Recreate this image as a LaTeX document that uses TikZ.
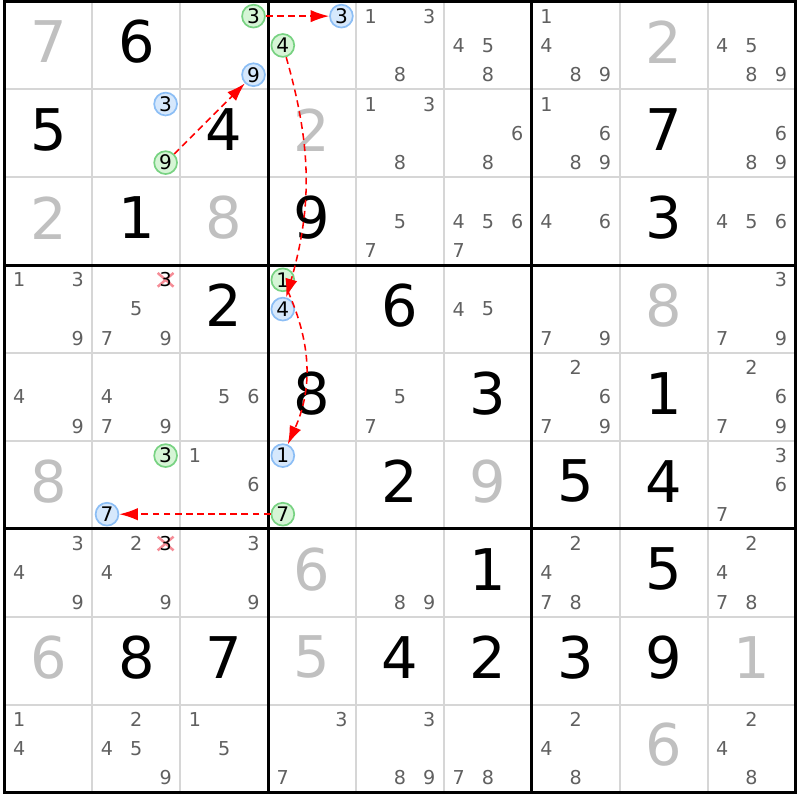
\documentclass[tikz,border=0pt]{standalone}
\usepackage{fontspec}
\setmainfont{DejaVu Sans}
\usetikzlibrary{arrows.meta}
\definecolor{givengray}{RGB}{192,192,192}
\definecolor{candgray}{RGB}{96,96,96}
\definecolor{gridgray}{RGB}{214,214,214}
\definecolor{onfill}{RGB}{214,245,214}
\definecolor{ondraw}{RGB}{120,210,130}
\definecolor{offfill}{RGB}{214,232,252}
\definecolor{offdraw}{RGB}{140,190,245}
\definecolor{crosspink}{RGB}{245,140,150}

\begin{document}
\begin{tikzpicture}[
        big/.style={font=\fontsize{18.6}{20}\selectfont, inner sep=0pt},
        cand/.style={font=\fontsize{6.2}{7}\selectfont, text=candgray, inner sep=0pt},
        oncand/.style={circle, draw=ondraw, fill=onfill, line width=0.55pt, minimum size=0.26cm, inner sep=0pt, font=\fontsize{6.5}{7}\selectfont},
        offcand/.style={oncand, draw=offdraw, fill=offfill},
        chain/.style={-{Latex[length=2.1mm,width=1.4mm]}, red, line width=0.5pt, dash pattern=on 2.2pt off 1.4pt}
        ]
        \useasboundingbox (-0.051,0.017) rectangle (9.051,-9.084);
        \foreach \i in {1,...,8}{
            \draw[gridgray, line width=0.65pt] (\i,0) -- (\i,-9);
            \draw[gridgray, line width=0.65pt] (0,-\i) -- (9,-\i);
        }
        \foreach \i in {3,6}{
            \draw[line width=1pt] (\i,0) -- (\i,-9);
            \draw[line width=1pt] (0,-\i) -- (9,-\i);
        }
        \draw[line width=1pt] (0,0) rectangle (9,-9);
        \foreach \r/\c/\d/\col in {1/1/7/givengray, 1/2/6/black, 1/8/2/givengray,
                2/1/5/black, 2/3/4/black, 2/4/2/givengray, 2/8/7/black,
                3/1/2/givengray, 3/2/1/black, 3/3/8/givengray, 3/4/9/black, 3/8/3/black,
                4/3/2/black, 4/5/6/black, 4/8/8/givengray,
                5/4/8/black, 5/6/3/black, 5/8/1/black,
                6/1/8/givengray, 6/5/2/black, 6/6/9/givengray, 6/7/5/black, 6/8/4/black,
                7/4/6/givengray, 7/6/1/black, 7/8/5/black,
                8/1/6/givengray, 8/2/8/black, 8/3/7/black, 8/4/5/givengray, 8/5/4/black,
                8/6/2/black, 8/7/3/black, 8/8/9/black, 8/9/1/givengray,
                9/8/6/givengray}
            \node[big, text=\col] (v\r\c) at (\c-0.5, 0.54-\r) {\d};
        \foreach \r/\c/\ds in {1/5/{1,3,8}, 1/6/{4,5,8}, 1/7/{1,4,8,9}, 1/9/{4,5,8,9},
                2/5/{1,3,8}, 2/6/{6,8}, 2/7/{1,6,8,9}, 2/9/{6,8,9},
                3/5/{5,7}, 3/6/{4,5,6,7}, 3/7/{4,6}, 3/9/{4,5,6},
                4/1/{1,3,9}, 4/2/{5,7,9}, 4/6/{4,5}, 4/7/{7,9}, 4/9/{3,7,9},
                5/1/{4,9}, 5/2/{4,7,9}, 5/3/{5,6}, 5/5/{5,7}, 5/7/{2,6,7,9}, 5/9/{2,6,7,9},
                6/3/{1,6}, 6/9/{3,6,7},
                7/1/{3,4,9}, 7/2/{2,4,9}, 7/3/{3,9}, 7/5/{8,9}, 7/7/{2,4,7,8}, 7/9/{2,4,7,8},
                9/1/{1,4}, 9/2/{2,4,5,9}, 9/3/{1,5}, 9/4/{3,7}, 9/5/{3,8,9}, 9/6/{7,8},
                9/7/{2,4,8}, 9/9/{2,4,8}}
            \foreach \d in \ds
                \node[cand] (c\r\c\d) at ({\c-1+(mod(\d-1,3)+0.5)/3}, {-(\r-1+(floor((\d-1)/3)+0.5)/3)}) {\d};
        \foreach \r in {4,7}{
            \coordinate (x\r) at (1.8333, {-(\r-0.8333)});
            \draw[crosspink, line width=0.8pt] (x\r) +(-0.09,0.078) -- +(0.09,-0.078)
                +(-0.09,-0.078) -- +(0.09,0.078);
            \node[cand, text=black] (k\r23) at (x\r) {3};
        }
        \foreach \r/\c/\d/\kind in {1/3/3/oncand, 1/3/9/offcand, 2/2/9/oncand, 2/2/3/offcand,
                1/4/4/oncand, 1/4/3/offcand, 4/4/1/oncand, 4/4/4/offcand,
                6/4/7/oncand, 6/4/1/offcand, 6/2/3/oncand, 6/2/7/offcand}
            \node[\kind] (m\r\c\d) at ({\c-1+(mod(\d-1,3)+0.5)/3}, {-(\r-1+(floor((\d-1)/3)+0.5)/3)}) {\d};
        \draw[chain] (m229) -- (m139);
        \draw[chain] (m133) -- (m143);
        \draw[chain] (m144) to[bend left=16] (m444);
        \draw[chain] (m441) to[bend left=24] (m641);
        \draw[chain] (m647) -- (m627);
\end{tikzpicture}
\end{document}
